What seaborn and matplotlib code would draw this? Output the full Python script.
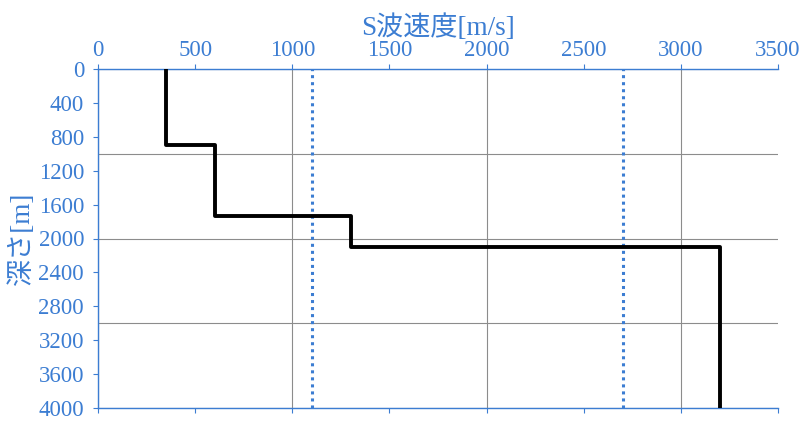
import matplotlib
matplotlib.use("Agg")
import matplotlib.pyplot as plt
from matplotlib.ticker import MultipleLocator
import pandas as pd
import seaborn as sns

# S-wave velocity profile (layer tops / bottoms in m, velocity in m/s)
layer_top = [0, 900, 1730, 2100]
layer_bottom = [900, 1730, 2100, 4000]
vs_layer = [350, 600, 1300, 3200]

# reference velocities (dotted lines)
ref_vs = [1100, 2700]

blue = "#3c7dd2"

sns.set_style("white")
plt.rcParams["font.family"] = ["Liberation Serif", "Noto Sans CJK JP"]

# build the step profile from the layer lists
xs, ys = [], []
for v, t, b in zip(vs_layer, layer_top, layer_bottom):
    xs += [v, v]
    ys += [t, b]
df = pd.DataFrame({"vs": xs, "depth": ys})

fig, ax = plt.subplots(figsize=(8.1, 4.26), dpi=100)
fig.subplots_adjust(left=98 / 810, right=778 / 810, top=1 - 69 / 426, bottom=1 - 408 / 426)

sns.lineplot(data=df, x="vs", y="depth", sort=False, estimator=None,
             color="black", linewidth=2.8, ax=ax, zorder=3)

for v in ref_vs:
    ax.axvline(v, color=blue, linestyle=(0, (1, 1.3)), linewidth=2.2, zorder=2)

ax.set_xlim(0, 3500)
ax.set_ylim(4000, 0)

ax.xaxis.set_major_locator(MultipleLocator(500))
ax.yaxis.set_major_locator(MultipleLocator(400))
ax.xaxis.set_minor_locator(MultipleLocator(1000))
ax.yaxis.set_minor_locator(MultipleLocator(1000))
ax.xaxis.remove_overlapping_locs = False
ax.yaxis.remove_overlapping_locs = False
ax.grid(False)
ax.grid(which="minor", color="#8c8c8c", linewidth=0.8)
ax.set_axisbelow(True)

ax.xaxis.set_ticks_position("both")
ax.xaxis.set_label_position("top")
ax.tick_params(axis="x", which="major", top=True, bottom=True, labeltop=True,
               labelbottom=False, direction="out", length=3.5, color=blue,
               labelcolor=blue, labelsize=16.5, pad=2.5)
ax.tick_params(axis="y", which="major", left=True, direction="out", length=3.5,
               color=blue, labelcolor=blue, labelsize=16.5, pad=6.5)
ax.tick_params(which="minor", length=0)

for side in ["top", "bottom", "left"]:
    ax.spines[side].set_color(blue)
    ax.spines[side].set_linewidth(1.0)
ax.spines["right"].set_visible(False)

ax.set_xlabel("S波速度[m/s]", color=blue, fontsize=19.5)
ax.xaxis.set_label_coords(0.5, 1.1)
ax.set_ylabel("深さ[m]", color=blue, fontsize=19.5)
ax.yaxis.set_label_coords(-0.092, 0.5)

fig.savefig("out.png", dpi=100)
